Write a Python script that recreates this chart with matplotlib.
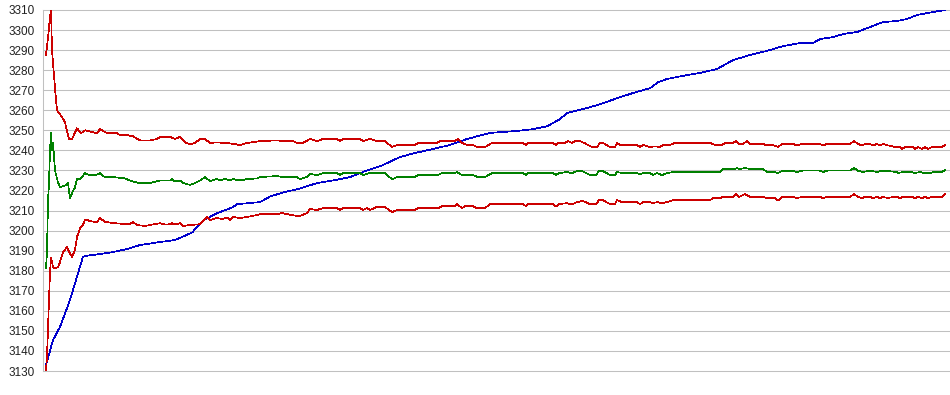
import numpy as np
import matplotlib
matplotlib.use("Agg")
import matplotlib.pyplot as plt

# x = sample step, y = value
blue_x = [46, 53, 60, 70, 83, 88, 100, 113, 127, 140, 153, 160, 175, 192, 203, 217, 233, 237,
          260, 270, 283, 300, 317, 333, 350, 367, 383, 400, 415, 433, 450, 467, 490, 517, 533,
          547, 560, 567, 583, 600, 617, 633, 650, 658, 667, 677, 688, 700, 717, 733, 750, 767,
          783, 800, 813, 820, 833, 843, 857, 870, 883, 897, 907, 917, 933, 945]
blue_y = [3132.9, 3145.4, 3152, 3165.4, 3187, 3187.6, 3188.3, 3189.3, 3190.8, 3192.8, 3193.8,
          3194.3, 3195.3, 3199, 3205, 3208.7, 3211.7, 3213.2, 3214.2, 3217, 3219, 3221, 3223.7,
          3225, 3226.7, 3230, 3232.7, 3236.7, 3238.7, 3240.7, 3242.7, 3245.7, 3248.7, 3249.7,
          3250.6, 3252, 3255.6, 3258.6, 3260.6, 3263, 3266, 3268.6, 3271, 3274, 3275.6, 3276.6,
          3277.6, 3278.6, 3280.6, 3285, 3287.6, 3289.6, 3292, 3293.5, 3293.5, 3295.5, 3296.5,
          3298, 3299, 3301.5, 3304, 3304.5, 3305.5, 3307.5, 3309, 3310]

upper_x = [46, 48, 49, 50, 51, 52, 53, 55, 57, 62, 65, 69, 72, 77, 81, 85, 93, 97, 100, 107,
           117, 120, 127, 133, 140, 150, 157, 160, 170, 175, 180, 185, 190, 195, 200, 205, 210,
           217, 230, 240, 247, 260, 277, 283, 293, 297, 303, 310, 317, 323, 337, 340, 343, 360,
           363, 370, 377, 385, 392, 397, 400, 415, 418, 437, 440, 455, 458, 462, 467, 473, 477,
           485, 492, 523, 526, 528, 553, 556, 558, 565, 568, 572, 575, 580, 585, 592, 597, 600,
           603, 610, 615, 617, 620, 637, 640, 643, 650, 655, 660, 663, 670, 675, 710, 715, 722,
           725, 733, 736, 739, 743, 747, 750, 763, 766, 773, 778, 782, 793, 797, 802, 820, 823,
           827, 850, 854, 858, 862, 865, 870, 873, 877, 880, 883, 888, 895, 900, 902, 905, 913,
           915, 918, 922, 925, 928, 932, 942, 945]
upper_y = [3287.6, 3296, 3301.5, 3306.5, 3310, 3290, 3283.6, 3271, 3260, 3256.6, 3254, 3245.6,
           3245.6, 3251, 3248.6, 3250, 3249, 3248.6, 3250.6, 3248.6, 3248.6, 3247.6, 3247.6,
           3247, 3245, 3245, 3245.7, 3246.7, 3246.7, 3245.7, 3246.7, 3244, 3243, 3243.7, 3245.7,
           3245.7, 3243.7, 3244, 3243.5, 3242.7, 3243.7, 3244.6, 3245, 3244.6, 3244.6, 3243.7,
           3243.7, 3245.7, 3244.6, 3245.7, 3245.7, 3244.6, 3245.7, 3245.7, 3244.6, 3245.7,
           3244.6, 3244.6, 3241.7, 3242.7, 3242.7, 3242.7, 3243.7, 3243.7, 3244.6, 3244.6,
           3245.7, 3243.7, 3242.7, 3242.7, 3241.7, 3241.7, 3243.7, 3243.7, 3242.7, 3243.7,
           3243.7, 3242.7, 3243.7, 3243.7, 3244.6, 3243.7, 3244.6, 3244.6, 3243.5, 3241.7,
           3241.7, 3243.7, 3243.7, 3241.7, 3241.7, 3243.7, 3242.7, 3242.7, 3241.7, 3242.7,
           3241.7, 3242, 3241.7, 3242.7, 3242.7, 3243.7, 3243.7, 3242.7, 3242.7, 3243.7, 3243.7,
           3244.6, 3243.2, 3243.2, 3244.6, 3243.2, 3243.2, 3242.7, 3242.7, 3241.7, 3243.2,
           3243.2, 3242.5, 3243.2, 3243.2, 3242.5, 3243.2, 3243.2, 3244.6, 3243.2, 3242.5,
           3243.2, 3243.2, 3242.5, 3243.2, 3242.5, 3243.2, 3242.5, 3241.7, 3241.7, 3240.7,
           3241.7, 3241.7, 3240.7, 3241.7, 3240.7, 3241.7, 3240.7, 3241.7, 3241.7, 3242.7]

green_x = [46, 47, 48, 49, 50, 51, 52, 53, 55, 58, 60, 65, 68, 70, 72, 75, 77, 80, 85, 90, 95,
           100, 105, 115, 125, 130, 135, 140, 150, 160, 170, 172, 175, 180, 183, 190, 195, 200,
           205, 210, 217, 220, 225, 230, 233, 240, 247, 257, 260, 277, 283, 297, 300, 307, 310,
           317, 323, 337, 340, 343, 360, 363, 370, 385, 392, 397, 400, 415, 418, 438, 442, 455,
           457, 462, 473, 478, 485, 492, 523, 526, 528, 553, 556, 559, 567, 572, 577, 582, 590,
           596, 599, 603, 610, 615, 617, 622, 637, 640, 643, 650, 653, 657, 662, 667, 673, 720,
           723, 735, 737, 740, 745, 750, 763, 767, 775, 778, 782, 793, 797, 802, 820, 823, 827,
           850, 854, 858, 863, 870, 877, 883, 897, 898, 903, 912, 915, 920, 925, 930, 933, 942,
           945]
green_y = [3181.3, 3189.5, 3215, 3223.7, 3240, 3248.6, 3240, 3244, 3230, 3224, 3221.6, 3222.5,
           3223.7, 3216, 3218.7, 3221.6, 3226, 3225.6, 3228.6, 3227.6, 3227.6, 3228.6, 3226.6,
           3226.6, 3226, 3225, 3224.2, 3223.7, 3223.7, 3225, 3225, 3225.6, 3224.5, 3225, 3223.7,
           3222.8, 3223.7, 3225, 3226.7, 3224.7, 3225.7, 3225, 3225.7, 3225, 3225.7, 3225,
           3225.7, 3226, 3226.7, 3227.2, 3226.7, 3226.7, 3225.6, 3226.8, 3228.2, 3227.7, 3228.7,
           3228.7, 3227.7, 3228.7, 3228.7, 3227.7, 3228.7, 3228.7, 3225.6, 3226.7, 3226.7,
           3226.7, 3227.7, 3227.7, 3228.7, 3228.7, 3229.2, 3227.7, 3227.7, 3226.7, 3226.7,
           3228.7, 3228.7, 3227.7, 3228.7, 3228.7, 3227.7, 3228.7, 3229.2, 3228.7, 3229.7,
           3229.7, 3227.7, 3227.7, 3229.7, 3229.7, 3227.7, 3227.7, 3229.2, 3228.7, 3228.7, 3228,
           3228.7, 3228.7, 3227.7, 3228.7, 3227.7, 3228.7, 3229.2, 3229.2, 3230.7, 3230.7,
           3231.2, 3230.7, 3231.2, 3230.7, 3230.7, 3229.2, 3229.2, 3228.7, 3229.7, 3229.7,
           3229.2, 3229.9, 3229.9, 3229.2, 3229.9, 3229.9, 3231.2, 3229.9, 3229.2, 3229.9,
           3229.2, 3229.9, 3229.2, 3228.7, 3229.2, 3229.2, 3228.7, 3229.2, 3228.7, 3228.7,
           3229.2, 3229.2, 3230.3]

lower_x = [46, 47, 48, 49, 50, 51, 52, 53, 55, 58, 60, 63, 67, 70, 72, 75, 77, 80, 83, 85, 90,
           95, 97, 100, 105, 115, 125, 130, 133, 137, 145, 150, 160, 165, 170, 172, 175, 180,
           183, 190, 200, 207, 210, 217, 222, 227, 230, 233, 240, 247, 257, 260, 277, 282, 287,
           297, 300, 307, 310, 317, 323, 337, 340, 343, 360, 363, 367, 370, 377, 385, 392, 397,
           400, 415, 418, 438, 442, 455, 457, 462, 465, 473, 477, 485, 490, 523, 526, 528, 553,
           556, 559, 567, 572, 577, 583, 590, 596, 599, 603, 610, 615, 617, 622, 637, 640, 643,
           650, 653, 657, 662, 667, 673, 710, 713, 720, 723, 733, 736, 739, 745, 750, 763, 767,
           775, 778, 782, 793, 797, 802, 820, 823, 827, 850, 854, 858, 862, 865, 870, 873, 877,
           880, 883, 888, 893, 897, 900, 903, 912, 915, 918, 922, 925, 928, 932, 942, 945]
lower_y = [3130.4, 3137, 3152, 3165.6, 3179, 3186.3, 3184.3, 3181.8, 3181.3, 3181.8, 3184.3,
           3189.3, 3191.8, 3188.6, 3187, 3190.3, 3196.8, 3201.2, 3202.8, 3205.6, 3204.8, 3204.3,
           3204.3, 3206.3, 3204.3, 3203.7, 3203.3, 3203.3, 3204.3, 3202.8, 3202.3, 3202.8,
           3203.7, 3203, 3203.2, 3203.7, 3203, 3203.7, 3202.3, 3202.8, 3203.2, 3206.8, 3205.3,
           3206.3, 3205.8, 3206.5, 3205.3, 3206.8, 3206.3, 3206.8, 3207.8, 3208.2, 3208.2,
           3208.8, 3208.2, 3207.3, 3207.3, 3208.8, 3210.8, 3210.3, 3211.2, 3211.2, 3210.3,
           3211.2, 3211.2, 3210.3, 3211.2, 3210.3, 3211.8, 3211.8, 3209.2, 3210.3, 3210.3,
           3210.3, 3211.2, 3211.2, 3212.2, 3212.2, 3213.2, 3211.2, 3212.2, 3212.2, 3211.2,
           3211.2, 3213.2, 3213.2, 3212.2, 3213.2, 3213.2, 3212, 3213.2, 3213.7, 3213, 3214.2,
           3214.8, 3213.2, 3213.2, 3215.2, 3215.2, 3213.2, 3213.2, 3215.2, 3214.2, 3214.2,
           3213.2, 3214.2, 3214.2, 3213.7, 3214.2, 3213.7, 3214.2, 3215.2, 3215.2, 3216.2,
           3216.2, 3216.8, 3216.8, 3218.2, 3216.8, 3218.2, 3216.8, 3216.8, 3216.2, 3216.2, 3215,
           3216.8, 3216.8, 3216.2, 3216.8, 3216.8, 3216.2, 3216.8, 3216.8, 3218.2, 3216.8,
           3216.2, 3216.8, 3216.8, 3216.2, 3216.8, 3216.2, 3216.8, 3216.2, 3216.8, 3216.8,
           3216.2, 3216.8, 3216.8, 3216.2, 3216.8, 3216.2, 3216.8, 3216.2, 3216.8, 3216.8,
           3218.2]

y_ticks = list(range(3130, 3311, 10))

plt.rcParams['font.family'] = ['Liberation Sans', 'DejaVu Sans']

fig = plt.figure(figsize=(9.5, 3.95), dpi=100)
ax = fig.add_axes([43 / 950, 1 - 371 / 395, 907 / 950, 361 / 395])

for y in y_ticks:
    ax.axhline(y, color="#c0c0c0", linewidth=0.75, zorder=0, clip_on=False)

lw = 0.5
ax.plot(blue_x, blue_y, color="#0000cc", linewidth=lw, antialiased=False)
ax.plot(upper_x, upper_y, color="#cc0000", linewidth=lw, antialiased=False)
ax.plot(green_x, green_y, color="#008000", linewidth=lw, antialiased=False)
ax.plot(lower_x, lower_y, color="#cc0000", linewidth=lw, antialiased=False)

ax.set_xlim(43, 950)
ax.set_ylim(3130, 3310)
ax.set_yticks(y_ticks)
ax.set_yticklabels([str(v) for v in y_ticks], fontsize=8.5, color="#222222")
ax.tick_params(axis="y", length=0, pad=6)
ax.set_xticks([])
for side in ["top", "right", "bottom"]:
    ax.spines[side].set_visible(False)
ax.spines["left"].set_color("#c0c0c0")
ax.spines["left"].set_linewidth(0.75)

fig.savefig("out.png", dpi=100)
